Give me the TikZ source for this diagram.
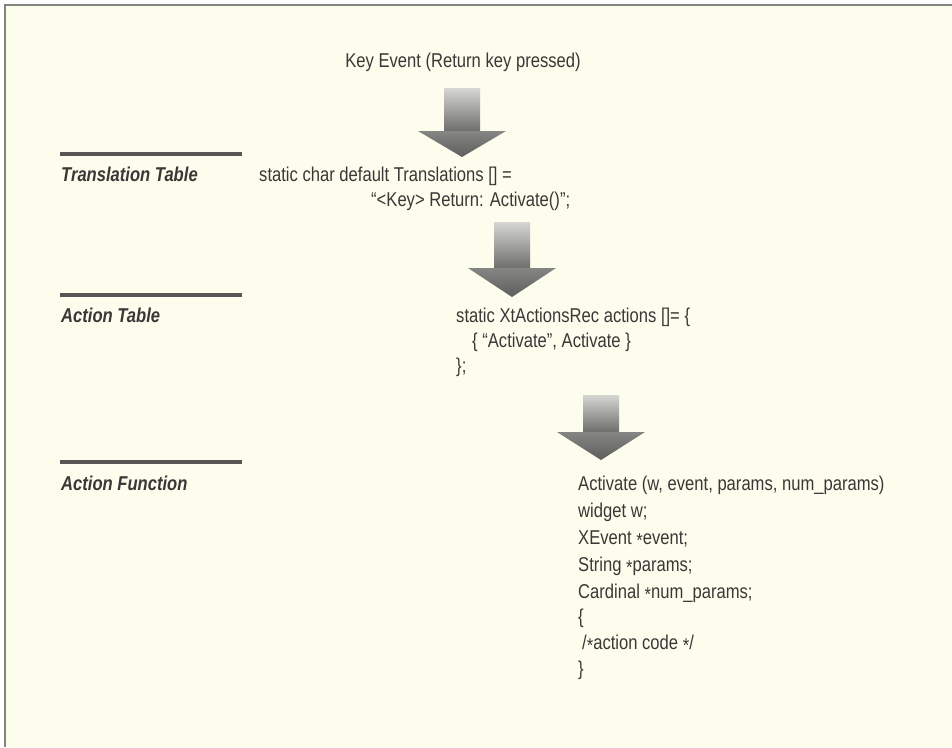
\documentclass[tikz,border=0pt]{standalone}
\usepackage{fontspec}
\setmainfont{Liberation Sans}[FakeStretch=0.83]
\definecolor{paper}{HTML}{FDFDEE}
\definecolor{ink}{HTML}{3A3836}
\definecolor{framegray}{HTML}{858580}
\definecolor{shaftlight}{HTML}{D6D6D2}
\definecolor{shaftdark}{HTML}{6E6E6C}
\definecolor{headtop}{HTML}{858583}
\definecolor{headbot}{HTML}{5E5E5C}
% block arrow: centre x, shaft top, head base, tip
\newcommand\blockarrow[4]{%
  \shade[top color=shaftlight, bottom color=shaftdark]
    (#1-18,#2) rectangle (#1+18,#3);
  \shade[top color=headtop, bottom color=headbot]
    (#1-44,#3) -- (#1+44,#3) -- (#1,#4) -- cycle;
}
\newcommand\lowstar{\raisebox{-0.3ex}{*}}
\begin{document}
\begin{tikzpicture}[x=1pt,y=-1pt,
  codeline/.style={anchor=base west, inner sep=0pt, text=ink,
    font=\fontsize{20}{24}\selectfont},
  sectionlabel/.style={codeline, font=\fontsize{20}{24}\selectfont\bfseries\itshape},
  rulebar/.style={line width=3.5pt, draw=ink!85}]
\useasboundingbox (0,0) rectangle (952,747);
\fill[white] (0,0) rectangle (952,747);
\fill[paper] (5,5) rectangle (952,747);
\draw[framegray, line width=2pt] (5,747) -- (5,5) -- (952,5);

% incoming event
\node[codeline, anchor=base] (event) at (463,67) {Key Event (Return key pressed)};
\blockarrow{462}{88}{131}{157}

% translation table
\draw[rulebar] (60,154) -- (242,154);
\node[sectionlabel] (lblTrans) at (61,181) {Translation Table};
\node[codeline] (trans1) at (259,181) {static char default Translations [] =};
\node[codeline] (trans2) at (371,206) {“<Key> Return: Activate()”;};
\blockarrow{512}{222}{268}{297}

% action table
\draw[rulebar] (60,295) -- (242,295);
\node[sectionlabel] (lblAction) at (61,322) {Action Table};
\node[codeline] (act1) at (456,322) {static XtActionsRec actions []= \{};
\node[codeline] (act2) at (472,347) {\{ “Activate”, Activate \}};
\node[codeline] (act3) at (456,372) {\};};
\blockarrow{601}{395}{432}{460}

% action function
\draw[rulebar] (60,462) -- (242,462);
\node[sectionlabel] (lblFunc) at (61,490) {Action Function};
\node[codeline] (fn1) at (578,490) {Activate (w, event, params, num\_params)};
\node[codeline] (fn2) at (578,517) {widget w;};
\node[codeline] (fn3) at (578,544) {XEvent \lowstar event;};
\node[codeline] (fn4) at (578,571) {String \lowstar params;};
\node[codeline] (fn5) at (578,598) {Cardinal \lowstar num\_params;};
\node[codeline] (fn6) at (578,623) {\{};
\node[codeline] (fn7) at (582,649) {/\lowstar action code \lowstar/};
\node[codeline] (fn8) at (578,675) {\}};
\end{tikzpicture}
\end{document}
